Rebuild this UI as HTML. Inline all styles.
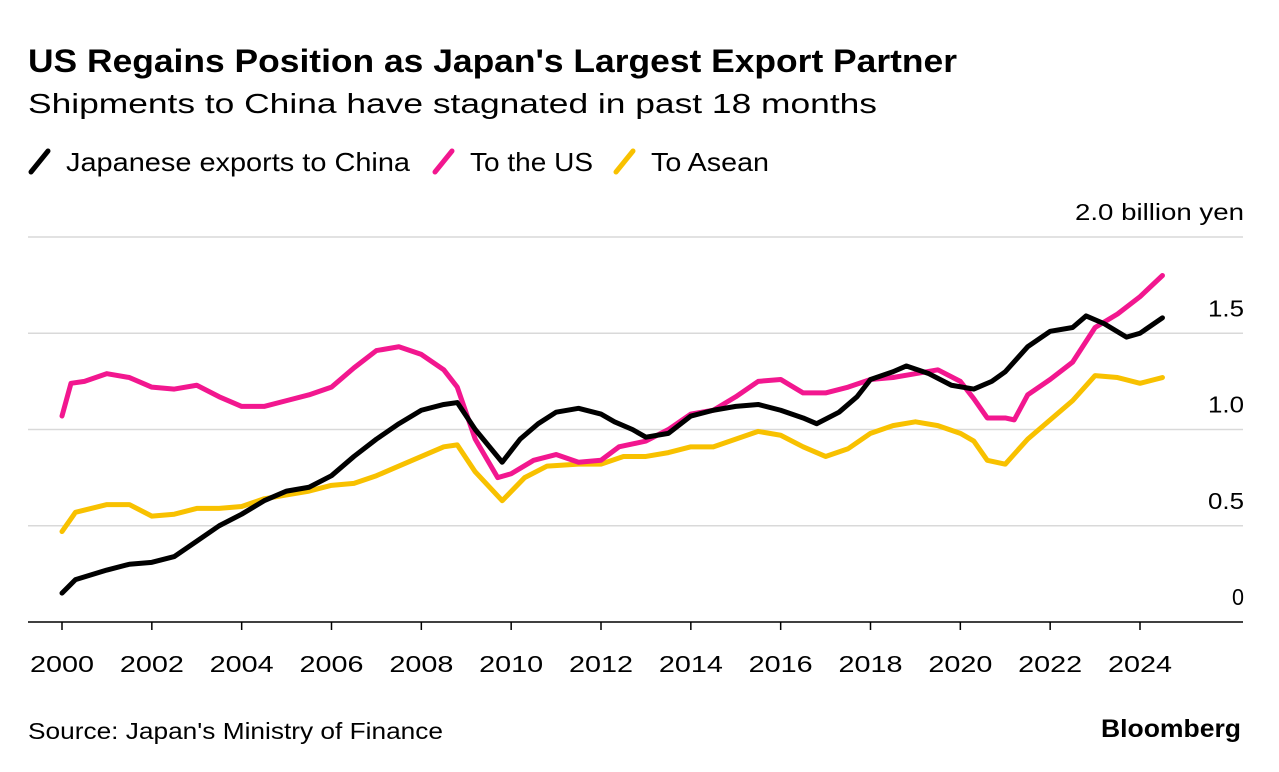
<!DOCTYPE html>
<html><head><meta charset="utf-8"><style>
body{margin:0;background:#fff;font-family:"Liberation Sans",sans-serif;}
#wrap{position:relative;width:1279px;height:772px;overflow:hidden;}
</style></head><body>
<div id="wrap">
<svg id="chart" width="1279" height="772" style="position:absolute;left:0;top:0" font-family="Liberation Sans, sans-serif">
<text x="28" y="72" font-size="32" font-weight="bold" textLength="929" lengthAdjust="spacingAndGlyphs">US Regains Position as Japan's Largest Export Partner</text>
<text x="28" y="113" font-size="28" textLength="849" lengthAdjust="spacingAndGlyphs">Shipments to China have stagnated in past 18 months</text>
<text x="28" y="739" font-size="23" textLength="415" lengthAdjust="spacingAndGlyphs">Source: Japan's Ministry of Finance</text>
<text x="1101" y="737" font-size="25" font-weight="bold" textLength="140" lengthAdjust="spacingAndGlyphs">Bloomberg</text>
</svg>
</div>
<script>
const xTicks=[2000,2002,2004,2006,2008,2010,2012,2014,2016,2018,2020,2022,2024];
const yTicks=[0,0.5,1.0,1.5,2.0];
const yTickLabels=["0","0.5","1.0","1.5","2.0 billion yen"];
const chinaX=[2000,2000.3,2001,2001.5,2002,2002.5,2003,2003.5,2004,2004.5,2005,2005.5,2006,2006.5,2007,2007.5,2008,2008.5,2008.8,2009.2,2009.8,2010.2,2010.6,2011,2011.5,2012,2012.3,2012.7,2013,2013.5,2014,2014.5,2015,2015.5,2016,2016.5,2016.8,2017.3,2017.7,2018,2018.5,2018.8,2019.3,2019.8,2020.3,2020.7,2021,2021.5,2022,2022.5,2022.8,2023.2,2023.7,2024,2024.5];
const chinaY=[0.15,0.22,0.27,0.30,0.31,0.34,0.42,0.50,0.56,0.63,0.68,0.70,0.76,0.86,0.95,1.03,1.10,1.13,1.14,1.00,0.83,0.95,1.03,1.09,1.11,1.08,1.04,1.00,0.96,0.98,1.07,1.10,1.12,1.13,1.10,1.06,1.03,1.09,1.17,1.26,1.30,1.33,1.29,1.23,1.21,1.25,1.30,1.43,1.51,1.53,1.59,1.55,1.48,1.50,1.58];
const usX=[2000,2000.2,2000.5,2001,2001.5,2002,2002.5,2003,2003.5,2004,2004.5,2005,2005.5,2006,2006.5,2007,2007.5,2008,2008.5,2008.8,2009.2,2009.7,2010,2010.5,2011,2011.5,2012,2012.4,2013,2013.5,2014,2014.5,2015,2015.5,2016,2016.5,2017,2017.5,2018,2018.5,2019,2019.5,2020,2020.3,2020.6,2021,2021.2,2021.5,2022,2022.5,2023,2023.5,2024,2024.5];
const usY=[1.07,1.24,1.25,1.29,1.27,1.22,1.21,1.23,1.17,1.12,1.12,1.15,1.18,1.22,1.32,1.41,1.43,1.39,1.31,1.22,0.95,0.75,0.77,0.84,0.87,0.83,0.84,0.91,0.94,1.00,1.08,1.10,1.17,1.25,1.26,1.19,1.19,1.22,1.26,1.27,1.29,1.31,1.25,1.16,1.06,1.06,1.05,1.18,1.26,1.35,1.53,1.60,1.69,1.80];
const aseanX=[2000,2000.3,2001,2001.5,2002,2002.5,2003,2003.5,2004,2004.5,2005,2005.5,2006,2006.5,2007,2007.5,2008,2008.5,2008.8,2009.2,2009.8,2010.3,2010.8,2011.5,2012,2012.5,2013,2013.5,2014,2014.5,2015,2015.5,2016,2016.5,2017,2017.5,2018,2018.5,2019,2019.5,2020,2020.3,2020.6,2021,2021.5,2022,2022.5,2023,2023.5,2024,2024.5];
const aseanY=[0.47,0.57,0.61,0.61,0.55,0.56,0.59,0.59,0.60,0.64,0.66,0.68,0.71,0.72,0.76,0.81,0.86,0.91,0.92,0.78,0.63,0.75,0.81,0.82,0.82,0.86,0.86,0.88,0.91,0.91,0.95,0.99,0.97,0.91,0.86,0.90,0.98,1.02,1.04,1.02,0.98,0.94,0.84,0.82,0.95,1.05,1.15,1.28,1.27,1.24,1.27];
const NS="http://www.w3.org/2000/svg";
const svg=document.getElementById('chart');
function xs(v){return 62+(v-2000)*(1140-62)/24;}
function ys(v){return 622-v*192.5;}
function mk(t,a){const e=document.createElementNS(NS,t);for(const k in a)e.setAttribute(k,a[k]);svg.appendChild(e);return e;}
yTicks.forEach((v,i)=>{
  const g=mk('line',{x1:28,x2:1243,y1:ys(v),y2:ys(v),stroke:v===0?'#000':'#d9d9d9','stroke-width':1.5});
  
  
  const w=yTickLabels[i].length>3?169:(yTickLabels[i].length===1?12:36);
  const t=mk('text',{x:1244-w,y:ys(v)-17,'font-size':23,textLength:w,lengthAdjust:'spacingAndGlyphs'});
  t.textContent=yTickLabels[i];
  
  
});
xTicks.forEach(v=>{
  const l=mk('line',{x1:xs(v),x2:xs(v),y1:622,y2:630,stroke:'#000','stroke-width':1.5});
  
  
  const t=mk('text',{x:xs(v)-32,y:672,'font-size':23,textLength:64,lengthAdjust:'spacingAndGlyphs'});
  t.textContent=v;
  
  
});
function series(X,Y,c,n){
  const p=mk('polyline',{points:X.map((x,i)=>xs(x)+','+ys(Y[i])).join(' '),fill:'none',stroke:c,'stroke-width':5,'stroke-linejoin':'round','stroke-linecap':'round'});
  
  
}
series(aseanX,aseanY,'#f8c100','line-asean');
series(usX,usY,'#f2178f','line-us');
series(chinaX,chinaY,'#000','line-china');
const legend=[['#000','Japanese exports to China',31,66,344],['#f2178f','To the US',435,470,123],['#f8c100','To Asean',616,651,118]];
legend.forEach(([c,txt,x,tx,w])=>{
  const l=mk('line',{x1:x,x2:x+17,y1:172,y2:151,stroke:c,'stroke-width':5,'stroke-linecap':'round'});
  
  
  const t=mk('text',{x:tx,y:171,'font-size':26,textLength:w,lengthAdjust:'spacingAndGlyphs'});
  t.textContent=txt;
  
  
});
</script>
</body></html>
